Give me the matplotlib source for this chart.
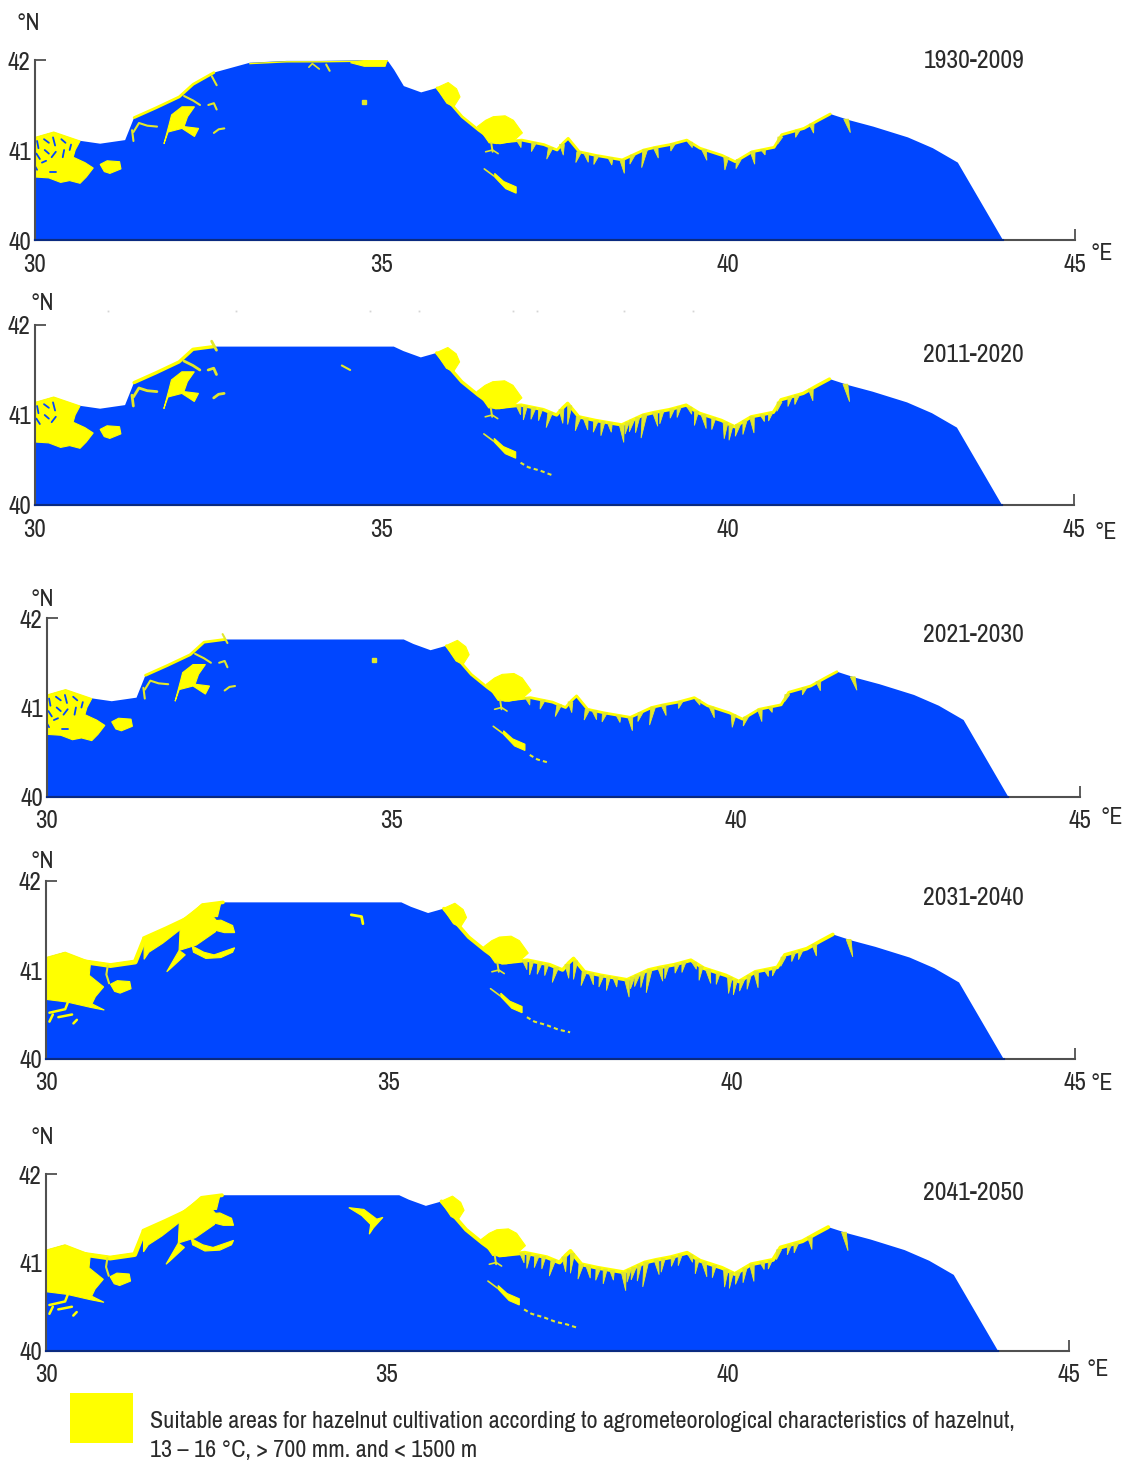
# -*- coding=utf-8 -*-
import numpy as np
import matplotlib
matplotlib.use('Agg')
import matplotlib.pyplot as plt
from matplotlib import font_manager as fm
from matplotlib.patches import Rectangle

# narrow fonts first, the plain ones are only a fallback
installed = {f.name for f in fm.fontManager.ttflist}
narrow = [n for n in ['Archivo Narrow', 'Pragati Narrow', 'PT Sans Narrow', 'Roboto Condensed', 'Fira Sans Condensed',
                      'Sofia Sans Condensed'] if n in installed]
plt.rcParams['font.family'] = narrow[:1] + ['Liberation Sans', 'DejaVu Sans']

BLUE = '#0046ff'
YELLOW = '#ffff00'
TOOTH = '#e2e82a'
AXIS = '#505050'
NAVY = '#0a2a80'
TEXT = '#2a2a2a'
W, H = 1122, 1464

periods = ['1930-2009', '2011-2020', '2021-2030', '2031-2040', '2041-2050']
x_ticks = [30, 35, 40, 45]
y_ticks = [40, 41, 42]

# black sea coast
coast_lon = [30.00, 30.27, 30.58, 30.94, 31.30, 31.43, 31.75, 32.08, 32.28, 32.58, 33.10, 33.63, 34.11,
             35.08, 35.18, 35.32, 35.57, 35.80, 36.16, 36.40, 36.65, 37.02, 37.34, 37.53, 37.62, 37.69, 37.85,
             38.09, 38.47, 38.78, 38.95, 39.16, 39.40, 39.59, 39.91, 40.10, 40.34, 40.66, 40.77, 41.09, 41.30, 41.47,
             41.75, 42.09, 42.59, 42.95, 43.31, 43.96]
coast_lat = [41.14, 41.20, 41.11, 41.07, 41.11, 41.36, 41.47, 41.59, 41.73, 41.86, 41.97, 41.99, 41.99,
             42.00, 41.89, 41.71, 41.64, 41.69, 41.37, 41.22, 41.08, 41.11, 41.06, 41.00, 41.08, 41.13, 40.98,
             40.94, 40.89, 41.00, 41.03, 41.06, 41.11, 41.02, 40.94, 40.87, 40.98, 41.03, 41.17, 41.24, 41.33, 41.40,
             41.33, 41.26, 41.14, 41.02, 40.86, 40.00]
plateau_cap = [42.0, 41.76, 41.76, 41.76, 41.76]

# yellow areas, (lon, lat) outlines
west_small = [(30.00, 41.14), (30.27, 41.20), (30.65, 41.10), (30.58, 41.00), (30.55, 40.92), (30.72, 40.86),
              (30.84, 40.80), (30.74, 40.70), (30.65, 40.63), (30.50, 40.66), (30.37, 40.64), (30.20, 40.69),
              (30.00, 40.70)]
west_big = [(30.00, 41.14), (30.28, 41.20), (30.65, 41.09), (30.63, 40.94), (30.84, 40.81), (30.72, 40.70),
            (30.67, 40.62), (30.85, 40.55), (30.65, 40.58), (30.31, 40.64), (30.00, 40.67)]
island = [(30.94, 40.84), (31.04, 40.88), (31.22, 40.87), (31.24, 40.79), (31.08, 40.74), (31.00, 40.76)]
nw_small = [(31.97, 41.39), (32.12, 41.48), (32.30, 41.48), (32.20, 41.37), (32.15, 41.26), (32.36, 41.24),
            (32.30, 41.15), (32.12, 41.24), (31.92, 41.20), (31.86, 41.07), (31.94, 41.30)]
nw_band = [(31.43, 41.34), (31.96, 41.55), (32.28, 41.74), (32.55, 41.76), (32.50, 41.60), (32.20, 41.60),
           (31.95, 41.45), (31.70, 41.30), (31.50, 41.20), (31.43, 41.12)]
nw_trunk = [(31.96, 41.53), (32.30, 41.73), (32.50, 41.54), (32.47, 41.43), (32.19, 41.28), (31.94, 41.22)]
nw_east = [(32.13, 41.27), (32.30, 41.20), (32.45, 41.17), (32.75, 41.25), (32.72, 41.20), (32.55, 41.14),
           (32.33, 41.13), (32.15, 41.20)]
nw_north = [(32.40, 41.55), (32.55, 41.56), (32.72, 41.50), (32.75, 41.42), (32.60, 41.42), (32.45, 41.45)]
nw_down = [(31.94, 41.22), (32.03, 41.17), (31.82, 41.02), (31.76, 40.98), (31.85, 41.10)]
bump_a = [(35.79, 41.69), (35.96, 41.75), (36.08, 41.68), (36.13, 41.59), (36.04, 41.48), (35.94, 41.52)]
bump_b = [(36.38, 41.26), (36.50, 41.33), (36.61, 41.37), (36.78, 41.38), (36.90, 41.33), (37.03, 41.19),
          (36.90, 41.10), (36.71, 41.07), (36.55, 41.08), (36.45, 41.19)]
diagonal = [(36.63, 40.74), (36.76, 40.65), (36.94, 40.59), (36.94, 40.52), (36.79, 40.57), (36.63, 40.70)]
mid_patch = [(34.44, 41.62), (34.66, 41.60), (34.85, 41.49), (34.94, 41.51), (34.80, 41.39), (34.74, 41.32),
             (34.76, 41.43), (34.63, 41.53)]

# thin squiggles of yellow
nw_squiggles = [[(31.42, 41.20), (31.50, 41.30), (31.62, 41.27), (31.76, 41.26)],
                [(32.50, 41.50), (32.58, 41.52), (32.62, 41.45)],
                [(32.58, 41.19), (32.65, 41.23), (32.73, 41.24)],
                [(32.15, 41.60), (32.28, 41.55), (32.38, 41.50)],
                [(32.55, 41.82), (32.62, 41.72)],
                [(31.40, 41.22), (31.42, 41.10)]]
south_squiggles = [[(30.05, 40.52), (30.28, 40.56), (30.33, 40.66)],
                   [(30.05, 40.42), (30.10, 40.50)],
                   [(30.18, 40.47), (30.38, 40.50)],
                   [(30.40, 40.40), (30.45, 40.44)]]
tail_lon = [37.01, 37.12, 37.30, 37.47, 37.64, 37.80]
tail_lat = [40.47, 40.42, 40.38, 40.33, 40.30, 40.26]
tail_end = [36.94, 37.47, 37.30, 37.64, 37.80]

# blue specks inside the western area
holes = [[(30.03, 41.10), (30.05, 41.02)],
         [(30.02, 40.96), (30.07, 40.90)],
         [(30.13, 41.12), (30.20, 41.08)],
         [(30.14, 41.00), (30.20, 40.96)],
         [(30.26, 41.14), (30.29, 41.05)],
         [(30.30, 40.98), (30.24, 40.92)],
         [(30.38, 41.12), (30.44, 41.08)],
         [(30.42, 41.00), (30.40, 40.92)],
         [(30.52, 41.06), (30.50, 41.00)],
         [(30.10, 40.86), (30.16, 40.88)],
         [(30.22, 40.76), (30.30, 40.76)],
         [(30.00, 40.82), (30.03, 40.78)]]
speck_inland = (34.75, 41.53)

tooth_lon = [36.98, 37.20, 37.44, 37.60, 37.85, 37.95, 38.10, 38.30, 38.47, 38.62, 38.80, 38.95, 39.20, 39.45,
             39.65, 39.97, 40.15, 40.35, 40.50, 40.75, 41.00, 41.20, 41.70]
tooth_len = [0.08, 0.10, 0.13, 0.12, 0.12, 0.10, 0.10, 0.08, 0.15, 0.10, 0.20, 0.12, 0.08, 0.06,
             0.12, 0.14, 0.10, 0.14, 0.06, 0.08, 0.08, 0.10, 0.15]
tooth_lean = [0.03, -0.04, -0.06, 0.02, -0.05, 0.03, -0.04, 0.02, 0.03, -0.04, -0.05, 0.04, -0.03, 0.03,
              0.04, -0.02, -0.04, 0.03, 0.03, -0.04, -0.03, 0.03, 0.06]
extra_tooth_lon = [37.08, 37.30, 37.72, 38.20, 38.55, 38.70, 39.05, 39.30, 39.55, 39.80, 40.05, 40.25, 40.62, 40.90]
extra_tooth_len = [0.12, 0.10, 0.16, 0.12, 0.10, 0.13, 0.11, 0.09, 0.12, 0.10, 0.13, 0.12, 0.07, 0.08]

speck_lon = [31.05, 32.9, 34.83, 35.55, 36.9, 37.25, 38.5, 39.5]

# panel layout in pixels: x30, x45, y42, y40
panel_x0 = [35, 35, 47, 46, 46]
panel_x1 = [1075, 1074, 1080, 1075, 1069]
panel_top = [60, 325, 618, 881, 1174]
panel_bot = [240, 505, 797, 1059, 1351]
period_xy = [(924, 60), (923, 355), (923, 635), (923, 897), (923, 1192)]
north_xy = [(17, 23), (30, 304), (30, 599), (30, 861), (30, 1138)]
east_xy = [(1091, 254), (1095, 532), (1100, 817), (1090, 1083), (1087, 1369)]
tooth_scale = [1.0, 1.3, 1.0, 1.3, 1.4]
fringe_width = [2.0, 2.4, 2.0, 2.6, 2.8]

fig = plt.figure(figsize=(W / 100, H / 100), dpi=100)


def fig_text(x, y, s, **kw):
    return fig.text(x / W, 1 - y / H, s, va='center', color=TEXT, **kw)


def draw_poly(ax, shape, color=YELLOW, lw=0.8):
    xs, ys = zip(*shape)
    ax.fill(xs, ys, color=color, lw=lw, zorder=3)


def draw_line(ax, line, color=TOOTH, lw=1.5, z=3):
    xs, ys = zip(*line)
    ax.plot(xs, ys, color=color, lw=lw, zorder=z, solid_capstyle='round')


def draw_panel(i):
    ax = fig.add_axes([panel_x0[i] / W, 1 - panel_bot[i] / H,
                       (panel_x1[i] - panel_x0[i]) / W, (panel_bot[i] - panel_top[i]) / H])
    ax.set_xlim(30, 45)
    ax.set_ylim(40, 42)
    lon = np.array(coast_lon)
    lat = np.minimum(coast_lat, plateau_cap[i])
    ax.fill(np.r_[lon, 30], np.r_[lat, 40], color=BLUE, lw=0, zorder=2)

    # coast fringe
    for lo, hi in [(31.4, 32.6), (35.8, 41.47)]:
        m = (lon >= lo) & (lon <= hi)
        ax.plot(lon[m], lat[m], color=YELLOW, lw=fringe_width[i], zorder=3, solid_capstyle='round')
    if i == 0:
        m = (lon >= 32.6) & (lon <= 35.08)
        ax.plot(lon[m], lat[m] - 0.01, color=YELLOW, lw=1.0, zorder=3)
        draw_poly(ax, [(34.55, 41.97), (34.8, 42.0), (35.08, 42.0), (35.05, 41.93), (34.75, 41.93)])
        draw_line(ax, [(34.2, 41.95), (34.25, 41.88)])
        draw_line(ax, [(33.95, 41.92), (34.0, 41.96), (34.1, 41.9)], lw=1.2)
    if i in (0, 2):
        ax.plot(*speck_inland, 's', color=TOOTH, ms=2.5, zorder=3)
    if i >= 3:
        m = (lon >= 30.58) & (lon <= 31.43)
        ax.plot(lon[m], lat[m] - 0.02, color=YELLOW, lw=3.5, zorder=3)
        draw_line(ax, [(30.9, 41.05), (30.88, 40.95), (30.92, 40.85)])

    # teeth under the eastern coast, wedges narrowing to a tip
    top = np.interp(tooth_lon, lon, lat)
    for x, y, ln, lean in zip(tooth_lon, top, tooth_len, tooth_lean):
        ax.fill([x - 0.035, x + 0.035, x + lean], [y, y, y - ln * tooth_scale[i]], color=TOOTH, lw=0.6, zorder=3)
    if i in (1, 3, 4):
        top = np.interp(extra_tooth_lon, lon, lat)
        for x, y, ln in zip(extra_tooth_lon, top, extra_tooth_len):
            ax.fill([x - 0.03, x + 0.03, x - 0.03], [y, y, y - ln * tooth_scale[i]], color=TOOTH, lw=0.6, zorder=3)

    # areas
    draw_poly(ax, west_big if i >= 3 else west_small)
    draw_poly(ax, island)
    draw_poly(ax, bump_a)
    draw_poly(ax, bump_b)
    draw_poly(ax, diagonal)
    if i >= 3:
        for shape in [nw_band, nw_trunk, nw_east, nw_north, nw_down]:
            draw_poly(ax, shape)
        for line in south_squiggles:
            draw_line(ax, line, YELLOW, 1.8)
    else:
        draw_poly(ax, nw_small)
        for line in nw_squiggles:
            draw_line(ax, line, lw=1.5 if i != 1 else 2.0)
    if i == 4:
        draw_poly(ax, mid_patch)
    if i == 3:
        draw_line(ax, [(34.45, 41.62), (34.6, 41.6), (34.62, 41.52)], YELLOW, 2)
    if i == 1:
        draw_line(ax, [(34.43, 41.55), (34.55, 41.5)])
    if i < 3:
        for line in holes[:6] if i == 1 else holes:
            draw_line(ax, line, BLUE, 1.3, 4)

    # dotted tail of the diagonal area, longer in later periods
    keep = [k for k, v in enumerate(tail_lon) if v <= tail_end[i]]
    if keep:
        ax.plot([tail_lon[k] for k in keep], [tail_lat[k] for k in keep], color=TOOTH, lw=1.5,
                ls=(0, (2, 1.5)), zorder=3)
    draw_line(ax, [(36.48, 40.79), (36.62, 40.71)], lw=1.2)
    draw_line(ax, [(36.5, 40.98), (36.6, 41.0), (36.68, 40.96)], lw=1.2)
    draw_line(ax, [(36.58, 41.08), (36.6, 40.98)], lw=1.4)

    for side in ['top', 'right']:
        ax.spines[side].set_visible(False)
    for side in ['left', 'bottom']:
        ax.spines[side].set_color(AXIS)
        ax.spines[side].set_linewidth(1.5)
        ax.spines[side].set_zorder(5)
    # the axis line looks navy where it runs over the blue land
    ax.plot([30, coast_lon[-1]], [40, 40], color=NAVY, lw=1.5, clip_on=False, zorder=6)
    ax.set_xticks(x_ticks)
    ax.set_yticks(y_ticks)
    ax.set_axisbelow(True)
    ax.tick_params(direction='in', length=8, width=1.3, color=AXIS, labelcolor=TEXT, labelsize=18)
    ax.tick_params(axis='x', pad=9)
    ax.tick_params(axis='y', pad=3)
    ax.patch.set_alpha(0)

    if i == 1:
        ax.plot(speck_lon, [42.155] * len(speck_lon), 's', color='#d5d5d5', ms=1.3, mew=0, clip_on=False)

    fig_text(period_xy[i][0], period_xy[i][1], periods[i], fontsize=18.5)
    fig_text(north_xy[i][0], north_xy[i][1], '°N', fontsize=17)
    fig_text(east_xy[i][0], east_xy[i][1], '°E', fontsize=17)


for n in range(len(periods)):
    draw_panel(n)

# legend, first line is scaled to the width it has in the original
fig.add_artist(Rectangle((70 / W, 1 - 1443 / H), 63 / W, 50 / H, color=YELLOW, lw=0, transform=fig.transFigure))
line1 = fig_text(150, 1421, 'Suitable areas for hazelnut cultivation according to agrometeorological '
                            'characteristics of hazelnut,', fontsize=17)
width = line1.get_window_extent(fig.canvas.get_renderer()).width
legend_size = 17 * 859 / width
line1.set_fontsize(legend_size)
fig_text(150, 1451, '13 – 16 °C, > 700 mm. and < 1500 m', fontsize=legend_size)

fig.savefig('out.png', dpi=100)
